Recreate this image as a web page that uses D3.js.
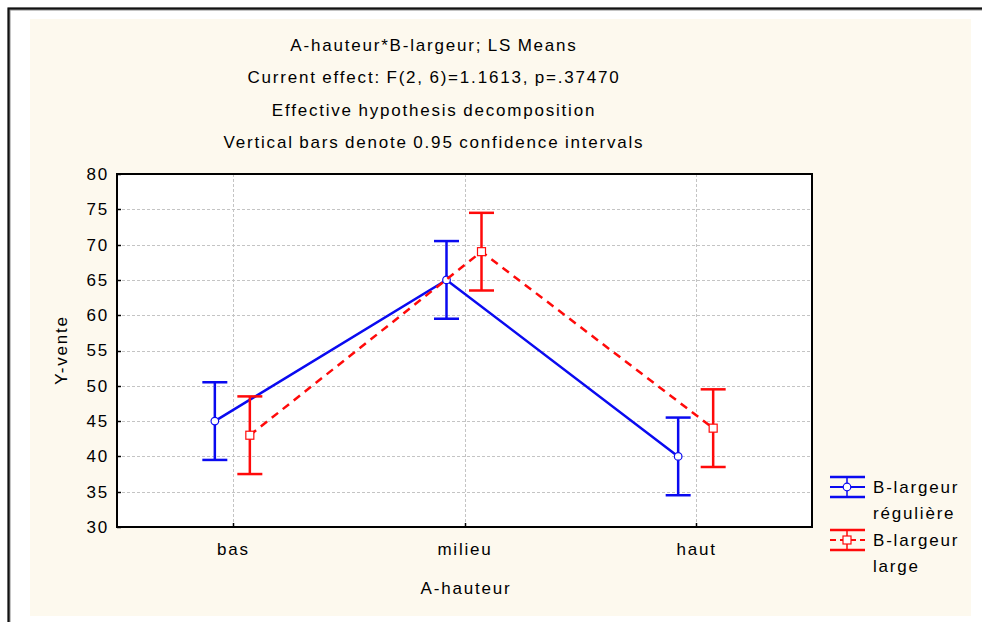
<!DOCTYPE html>
<html>
<head>
<meta charset="utf-8">
<script src="https://cdn.jsdelivr.net/npm/d3@7"></script>
<style>
  html, body { margin: 0; padding: 0; background: #ffffff; }
  svg { display: block; font-family: "Liberation Sans", Arial, sans-serif; }
  svg text { font-size: 17px; letter-spacing: 1.8px; word-spacing: -1px; }
</style>
</head>
<body>
<svg id="chart" width="982" height="622"></svg>
<script>
// Levels of factor A and the LS means with 0.95 confidence limits per B level
const categories = ["bas", "milieu", "haut"];
const seriesNames = ["B-largeur régulière", "B-largeur large"];
const meansReguliere = [45, 65, 40];
const lowerReguliere = [39.5, 59.5, 34.5];
const upperReguliere = [50.5, 70.5, 45.5];
const meansLarge = [43, 69, 44];
const lowerLarge = [37.5, 63.5, 38.5];
const upperLarge = [48.5, 74.5, 49.5];
const yTicks = [30, 35, 40, 45, 50, 55, 60, 65, 70, 75, 80];
const titleLines = [
  "A-hauteur*B-largeur; LS Means",
  "Current effect: F(2, 6)=1.1613, p=.37470",
  "Effective hypothesis decomposition",
  "Vertical bars denote 0.95 confidence intervals"
];

const svg = d3.select("#chart");
const W = 982, H = 622;

// outer frame and panel background
svg.append("rect").attr("x", 0).attr("y", 0).attr("width", W).attr("height", H).attr("fill", "#ffffff");
svg.append("path")
  .attr("d", `M9,${H + 5} V9 H${W + 5}`)
  .attr("fill", "none").attr("stroke", "#8a8a8a").attr("stroke-width", 3);
svg.append("path")
  .attr("d", `M8.5,${H + 5} V8.5 H${W + 5}`)
  .attr("fill", "none").attr("stroke", "#111").attr("stroke-width", 2);
svg.append("rect").attr("x", 30).attr("y", 19).attr("width", 941).attr("height", 597)
  .attr("fill", "#fdf9ee");

const plot = { left: 117, right: 812, top: 174, bottom: 527 };

const x = d3.scalePoint().domain(categories).range([plot.left, plot.right]).padding(0.5);
const y = d3.scaleLinear().domain([30, 80]).range([plot.bottom, plot.top]);

// plot area
svg.append("rect")
  .attr("x", plot.left).attr("y", plot.top)
  .attr("width", plot.right - plot.left).attr("height", plot.bottom - plot.top)
  .attr("fill", "#ffffff");

// grid lines
const grid = svg.append("g").attr("stroke", "#c4c4c4").attr("stroke-width", 1).attr("stroke-dasharray", "3,2");
grid.selectAll(".hg").data(yTicks.slice(1, -1)).join("line")
  .attr("x1", plot.left).attr("x2", plot.right)
  .attr("y1", d => Math.round(y(d)) + 0.5).attr("y2", d => Math.round(y(d)) + 0.5);
grid.selectAll(".vg").data(categories).join("line")
  .attr("x1", d => Math.round(x(d)) + 0.5).attr("x2", d => Math.round(x(d)) + 0.5)
  .attr("y1", plot.top).attr("y2", plot.bottom);

// axes
const yAxis = d3.axisLeft(y).tickValues(yTicks).tickSize(0).tickPadding(8);
const gy = svg.append("g").attr("transform", `translate(${plot.left},0)`).call(yAxis);
gy.select(".domain").remove();
gy.selectAll("text").attr("fill", "#000");
gy.attr("font-size", null).attr("font-family", null);

const xAxis = d3.axisBottom(x).tickSize(0).tickPadding(16);
const gx = svg.append("g").attr("transform", `translate(0,${plot.bottom})`).call(xAxis);
gx.select(".domain").remove();
gx.selectAll("text").attr("fill", "#000");
gx.attr("font-size", null).attr("font-family", null);

// inward tick marks
svg.append("g").selectAll("line").data(yTicks).join("line")
  .attr("x1", plot.left).attr("x2", plot.left + 4)
  .attr("y1", d => Math.round(y(d)) + 0.5).attr("y2", d => Math.round(y(d)) + 0.5)
  .attr("stroke", "#000").attr("stroke-width", 1.5);
svg.append("g").selectAll("line").data(categories).join("line")
  .attr("x1", d => Math.round(x(d)) + 0.5).attr("x2", d => Math.round(x(d)) + 0.5)
  .attr("y1", plot.bottom).attr("y2", plot.bottom - 4)
  .attr("stroke", "#000").attr("stroke-width", 1.5);

// frame
svg.append("rect")
  .attr("x", plot.left).attr("y", plot.top)
  .attr("width", plot.right - plot.left).attr("height", plot.bottom - plot.top)
  .attr("fill", "none").attr("stroke", "#000").attr("stroke-width", 2);

// series
const series = [
  { name: seriesNames[0], mean: meansReguliere, lo: lowerReguliere, hi: upperReguliere,
    color: "#0a0af0", dash: null, offset: -18, marker: "circle" },
  { name: seriesNames[1], mean: meansLarge, lo: lowerLarge, hi: upperLarge,
    color: "#ff0a0a", dash: "8,6", offset: 17, marker: "square" }
];

const capHalf = 12.5;
series.forEach(s => {
  const pts = categories.map((c, i) => ({ cx: x(c) + s.offset, m: s.mean[i], lo: s.lo[i], hi: s.hi[i] }));
  const g = svg.append("g");
  // connecting line
  g.append("path")
    .datum(pts)
    .attr("d", d3.line().x(d => d.cx).y(d => y(d.m)))
    .attr("fill", "none").attr("stroke", s.color).attr("stroke-width", 2.5)
    .attr("stroke-dasharray", s.dash);
  // confidence bars
  g.selectAll(".bar").data(pts).join("line")
    .attr("x1", d => d.cx).attr("x2", d => d.cx)
    .attr("y1", d => y(d.lo)).attr("y2", d => y(d.hi))
    .attr("stroke", s.color).attr("stroke-width", 2.5);
  ["lo", "hi"].forEach(k => {
    g.selectAll(".cap-" + k).data(pts).join("line")
      .attr("x1", d => d.cx - capHalf).attr("x2", d => d.cx + capHalf)
      .attr("y1", d => y(d[k])).attr("y2", d => y(d[k]))
      .attr("stroke", s.color).attr("stroke-width", 2.5);
  });
  // markers
  if (s.marker === "circle") {
    g.selectAll(".mk").data(pts).join("circle")
      .attr("cx", d => d.cx).attr("cy", d => y(d.m)).attr("r", 3.8)
      .attr("fill", "#fff").attr("stroke", s.color).attr("stroke-width", 1.2);
  } else {
    g.selectAll(".mk").data(pts).join("rect")
      .attr("x", d => d.cx - 4).attr("y", d => y(d.m) - 4).attr("width", 8).attr("height", 8)
      .attr("fill", "#fff").attr("stroke", s.color).attr("stroke-width", 1.2);
  }
});

// titles
svg.append("g").selectAll("text").data(titleLines).join("text")
  .attr("x", 434).attr("y", (d, i) => 51 + i * 32.3)
  .attr("text-anchor", "middle").attr("fill", "#000")
  .text(d => d);

// axis titles
svg.append("text").attr("x", 466).attr("y", 594).attr("text-anchor", "middle")
  .attr("fill", "#000").text("A-hauteur");
svg.append("text").attr("transform", "translate(67,350) rotate(-90)")
  .attr("text-anchor", "middle").attr("fill", "#000").text("Y-vente");

// legend
const legend = svg.append("g");
const legendItems = [
  { s: series[0], top: 477, lines: ["B-largeur", "régulière"] },
  { s: series[1], top: 530, lines: ["B-largeur", "large"] }
];
legendItems.forEach(it => {
  const cx = 847, x0 = 830, x1 = 865;
  const mid = it.top + 10, bot = it.top + 20;
  const s = it.s;
  legend.append("line").attr("x1", x0).attr("x2", x1).attr("y1", it.top).attr("y2", it.top)
    .attr("stroke", s.color).attr("stroke-width", 2.5);
  legend.append("line").attr("x1", x0).attr("x2", x1).attr("y1", bot).attr("y2", bot)
    .attr("stroke", s.color).attr("stroke-width", 2.5);
  legend.append("line").attr("x1", cx).attr("x2", cx).attr("y1", it.top).attr("y2", bot)
    .attr("stroke", s.color).attr("stroke-width", 1.5);
  legend.append("line").attr("x1", x0).attr("x2", x1).attr("y1", mid).attr("y2", mid)
    .attr("stroke", s.color).attr("stroke-width", 2).attr("stroke-dasharray", s.dash ? "6,4" : null);
  if (s.marker === "circle") {
    legend.append("circle").attr("cx", cx).attr("cy", mid).attr("r", 3.8)
      .attr("fill", "#fff").attr("stroke", s.color).attr("stroke-width", 1.2);
  } else {
    legend.append("rect").attr("x", cx - 4).attr("y", mid - 4).attr("width", 8).attr("height", 8)
      .attr("fill", "#fff").attr("stroke", s.color).attr("stroke-width", 1.2);
  }
  it.lines.forEach((t, j) => {
    legend.append("text").attr("x", 873).attr("y", mid + 6 + j * 26)
      .attr("fill", "#000").text(t);
  });
});
</script>
</body>
</html>
